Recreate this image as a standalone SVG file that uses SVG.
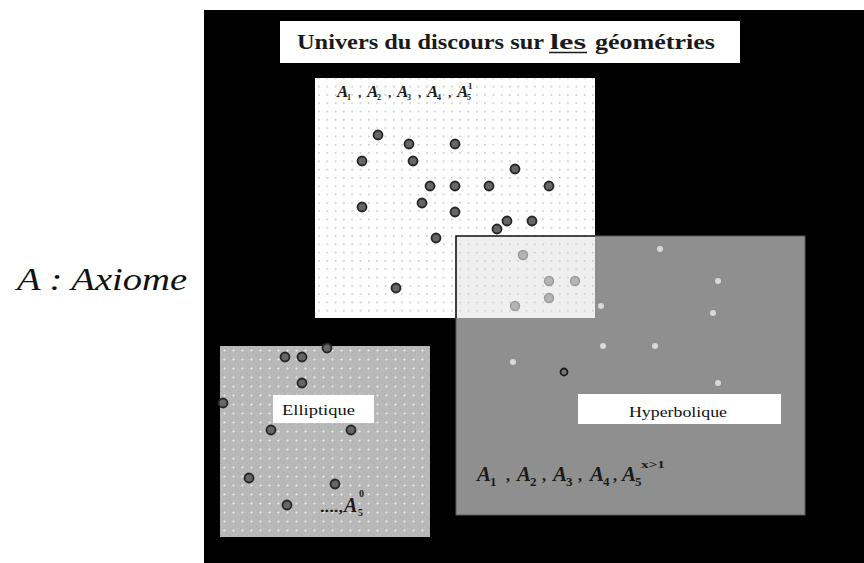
<svg xmlns="http://www.w3.org/2000/svg" width="864" height="563" viewBox="0 0 864 563">
<defs>
<pattern id="dotsW" x="0" y="0" width="8.3" height="8.3" patternUnits="userSpaceOnUse">
<rect width="8.3" height="8.3" fill="#ffffff"/>
<rect x="3" y="3" width="1.2" height="1.2" fill="#9a9a9a"/>
</pattern>
<pattern id="dotsO" x="0" y="0" width="8.3" height="8.3" patternUnits="userSpaceOnUse">
<rect width="8.3" height="8.3" fill="#efefef"/>
<rect x="3" y="3" width="1.2" height="1.2" fill="#b0b0b0"/>
</pattern>
<pattern id="checkE" x="220" y="346" width="9" height="9" patternUnits="userSpaceOnUse">
<rect width="9" height="9" fill="#b9b9b9"/>
<rect x="0" y="0" width="1" height="1" fill="#a8a8a8"/>
<rect x="2" y="2" width="1" height="1" fill="#a8a8a8"/>
<rect x="6" y="6" width="1" height="1" fill="#a8a8a8"/>
<circle cx="4.5" cy="4.5" r="1.1" fill="#ececec"/>
</pattern>
</defs>
<style>
.pt{fill:#666;stroke:#262626;stroke-width:1.8}
.fp{fill:#b4b4b4;stroke:#9a9a9a;stroke-width:1.4}
.wd{fill:#d9d9d9}
.lbl{font-family:"Liberation Serif",serif;font-size:15px;fill:#111}
.ttl{font-family:"Liberation Serif",serif;font-size:21px;font-weight:bold;fill:#1a1a1a}
.fa{font-family:"Liberation Serif",serif;font-style:italic;font-weight:bold;fill:#1a1a1a}
.fs{font-family:"Liberation Serif",serif;font-weight:bold;fill:#1a1a1a}
</style>
<rect width="864" height="563" fill="#ffffff"/>
<g id="axiom-label">
<text x="17" y="290" font-family="'Liberation Serif',serif" font-style="italic" font-size="32" fill="#111" textLength="170" lengthAdjust="spacingAndGlyphs">A : Axiome</text>
</g>
<g id="universe">
<rect x="204" y="10" width="660" height="553" fill="#000"/>
</g>
<g id="title">
<rect x="280" y="21" width="460" height="42" fill="#fff"/>
<text class="ttl" x="297" y="49" textLength="247" lengthAdjust="spacingAndGlyphs">Univers du discours sur</text>
<text class="ttl" x="550" y="49" textLength="36" lengthAdjust="spacingAndGlyphs">les</text>
<line x1="549" y1="52.5" x2="587" y2="52.5" stroke="#1a1a1a" stroke-width="1.3"/>
<text class="ttl" x="595" y="49" textLength="120" lengthAdjust="spacingAndGlyphs">géométries</text>
</g>
<g id="hyperbolique">
<rect x="456" y="236" width="349" height="279" fill="#8f8f8f" stroke="#5a5a5a" stroke-width="1"/>
<circle class="wd" cx="660" cy="249" r="3"/>
<circle class="wd" cx="718" cy="281" r="3"/>
<circle class="wd" cx="601" cy="306" r="3"/>
<circle class="wd" cx="713" cy="313" r="3"/>
<circle class="wd" cx="603" cy="346" r="3"/>
<circle class="wd" cx="655" cy="346" r="3"/>
<circle class="wd" cx="513" cy="362" r="3"/>
<circle class="wd" cx="718" cy="383" r="3"/>
<circle cx="564" cy="372" r="3.5" fill="#777" stroke="#1a1a1a" stroke-width="1.8"/>
<rect x="578" y="394" width="203" height="30" fill="#fff"/>
<text class="lbl" x="629" y="417" textLength="98" lengthAdjust="spacingAndGlyphs">Hyperbolique</text>
<text class="fa" font-size="21" y="481"><tspan x="477">A</tspan><tspan x="517">A</tspan><tspan x="553">A</tspan><tspan x="590">A</tspan><tspan x="622">A</tspan></text>
<text class="fs" font-size="13" y="486"><tspan x="490">1</tspan><tspan x="530">2</tspan><tspan x="566">3</tspan><tspan x="603">4</tspan><tspan x="635">5</tspan></text>
<text class="fs" font-size="16" y="481"><tspan x="506">,</tspan><tspan x="542">,</tspan><tspan x="578">,</tspan><tspan x="613">,</tspan></text>
<text class="fs" font-size="11" x="641" y="468" textLength="24" lengthAdjust="spacingAndGlyphs">x&gt;1</text>
</g>
<g id="discours-box">
<rect x="315" y="78" width="280" height="240" fill="url(#dotsW)"/>
<circle class="pt" cx="378" cy="135" r="4.5"/>
<circle class="pt" cx="409" cy="144" r="4.5"/>
<circle class="pt" cx="455" cy="144" r="4.5"/>
<circle class="pt" cx="362" cy="161" r="4.5"/>
<circle class="pt" cx="413" cy="161" r="4.5"/>
<circle class="pt" cx="515" cy="169" r="4.5"/>
<circle class="pt" cx="430" cy="186" r="4.5"/>
<circle class="pt" cx="455" cy="186" r="4.5"/>
<circle class="pt" cx="489" cy="186" r="4.5"/>
<circle class="pt" cx="549" cy="186" r="4.5"/>
<circle class="pt" cx="362" cy="207" r="4.5"/>
<circle class="pt" cx="422" cy="203" r="4.5"/>
<circle class="pt" cx="455" cy="212" r="4.5"/>
<circle class="pt" cx="507" cy="221" r="4.5"/>
<circle class="pt" cx="532" cy="221" r="4.5"/>
<circle class="pt" cx="497" cy="229" r="4.5"/>
<circle class="pt" cx="436" cy="238" r="4.5"/>
<circle class="pt" cx="396" cy="288" r="4.5"/>
<text class="fa" font-size="17" y="97"><tspan x="337">A</tspan><tspan x="367">A</tspan><tspan x="397">A</tspan><tspan x="427">A</tspan><tspan x="457">A</tspan></text>
<text class="fs" font-size="8" y="100"><tspan x="347">1</tspan><tspan x="377">2</tspan><tspan x="407">3</tspan><tspan x="437">4</tspan><tspan x="467">5</tspan></text>
<text class="fs" font-size="13" y="97"><tspan x="358">,</tspan><tspan x="388">,</tspan><tspan x="418">,</tspan><tspan x="448">,</tspan></text>
<text class="fs" font-size="9" x="468" y="89">1</text>
</g>
<g id="overlap">
<rect x="456" y="236" width="139" height="82" fill="url(#dotsO)"/>
<path d="M456 318 V236 H595" fill="none" stroke="#111" stroke-width="1.6"/>
<circle class="fp" cx="523" cy="255" r="4.5"/>
<circle class="fp" cx="549" cy="281" r="4.5"/>
<circle class="fp" cx="575" cy="281" r="4.5"/>
<circle class="fp" cx="549" cy="298" r="4.5"/>
<circle class="fp" cx="515" cy="306" r="4.5"/>
</g>
<g id="elliptique">
<rect x="220" y="346" width="210" height="191" fill="url(#checkE)"/>
<circle class="pt" cx="285" cy="357" r="4.5"/>
<circle class="pt" cx="302" cy="357" r="4.5"/>
<circle class="pt" cx="327" cy="348" r="4.5"/>
<circle class="pt" cx="302" cy="383" r="4.5"/>
<circle class="pt" cx="223" cy="403" r="4.5"/>
<circle class="pt" cx="271" cy="430" r="4.5"/>
<circle class="pt" cx="351" cy="430" r="4.5"/>
<circle class="pt" cx="249" cy="478" r="4.5"/>
<circle class="pt" cx="335" cy="484" r="4.5"/>
<circle class="pt" cx="287" cy="505" r="4.5"/>
<rect x="273" y="395" width="101" height="28" fill="#fff"/>
<text class="lbl" x="282" y="415" textLength="73" lengthAdjust="spacingAndGlyphs">Elliptique</text>
<text class="fs" font-size="15" x="320" y="512" textLength="23" lengthAdjust="spacingAndGlyphs">....,</text>
<text class="fa" font-size="20" x="344" y="512">A</text>
<text class="fs" font-size="10" x="358" y="516">5</text>
<text class="fs" font-size="10" x="359" y="497">0</text>
</g>
</svg>
